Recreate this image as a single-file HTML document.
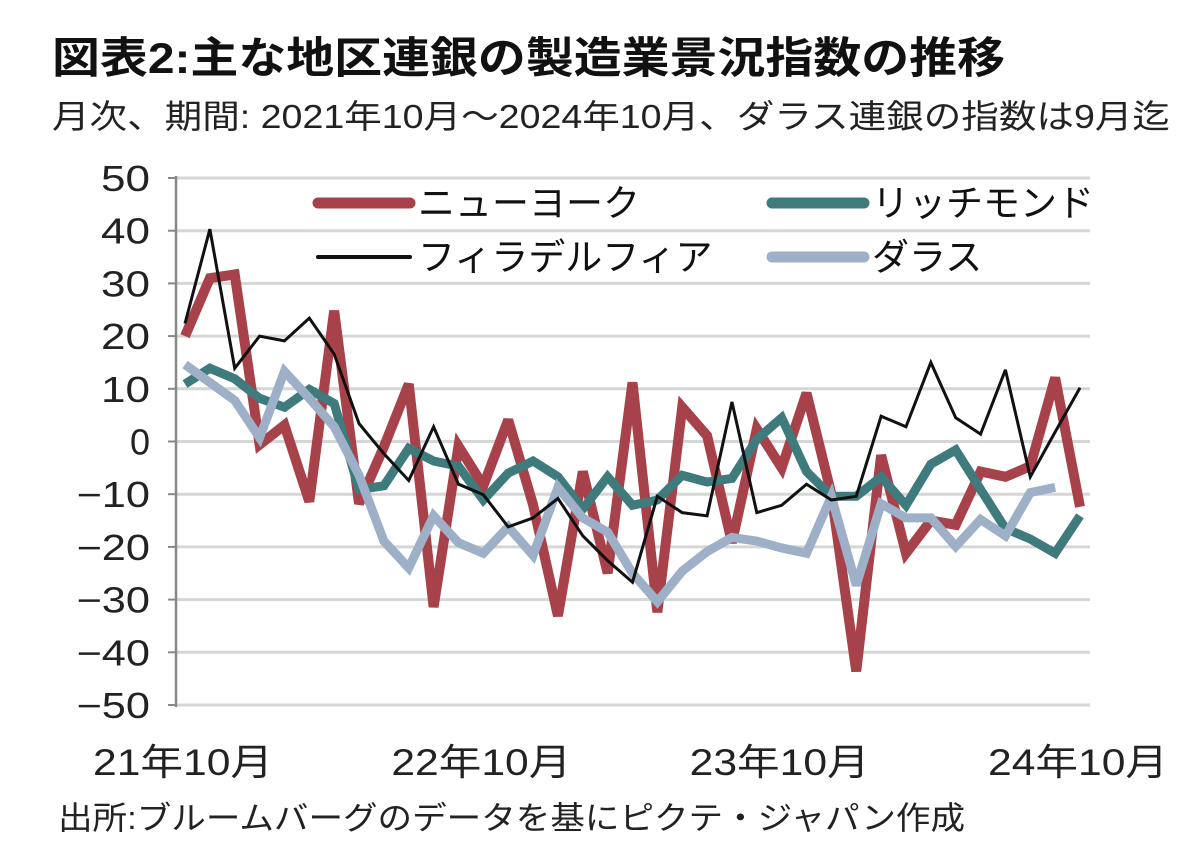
<!DOCTYPE html>
<html><head><meta charset="utf-8">
<style>
body{margin:0;background:#fff;width:1200px;height:860px;overflow:hidden;font-family:"Liberation Sans","Noto Sans CJK JP",sans-serif;}
.fit{position:absolute;white-space:nowrap;transform-origin:0 0;}
#title{left:52px;top:24px;font-size:43px;font-weight:bold;color:#111;}
#subtitle{left:52px;top:90px;font-size:33px;color:#222;}
#source{left:58px;top:793px;font-size:32px;color:#222;}
svg{position:absolute;left:0;top:0;}
</style></head>
<body>
<div id="title" class="fit" data-w="953">図表2:主な地区連銀の製造業景況指数の推移</div>
<div id="subtitle" class="fit" data-w="1118">月次、期間: 2021年10月～2024年10月、ダラス連銀の指数は9月迄</div>
<div id="source" class="fit" data-w="907">出所:ブルームバーグのデータを基にピクテ・ジャパン作成</div>
<svg id="chart" width="1200" height="860"></svg>
<script>
const yTicks=[50,40,30,20,10,0,-10,-20,-30,-40,-50];
const yTickLabels=["50","40","30","20","10","0","−10","−20","−30","−40","−50"];
const xLabelIdx=[0,12,24,36];
const xLabels=["21年10月","22年10月","23年10月","24年10月"];
const newYork=[20,31,31.7,-0.6,3.1,-11.4,24.8,-11.8,-1,10.9,-31.4,-0.9,-8.4,4.1,-12,-33.1,-5.7,-25,11.2,-32.4,6.5,1.1,-19.2,2.4,-5,9.2,-10,-43.6,-2.6,-21.2,-15,-15.8,-5.7,-6.7,-4.7,12.1,-12.4];
const richmond=[10.9,13.9,11.9,8.2,6.5,9.9,7.2,-9.1,-8.4,-1.3,-3.7,-4.7,-11.1,-6,-3.7,-6.7,-12.8,-6.7,-12.1,-11.1,-6.4,-7.7,-7,0.4,4.5,-5.7,-10.4,-10.4,-6.7,-12.1,-4.3,-1.6,-9.1,-16.5,-18.5,-21.2,-14.1];
const philly=[22.4,40.3,13.9,20,19.1,23.4,16.6,3.4,-2.3,-7.4,2.8,-8.1,-10.1,-16.2,-14.5,-10.8,-17.9,-22.6,-26.7,-10.4,-13.5,-14.1,7.5,-13.5,-12.1,-8.1,-11.1,-10.4,4.8,2.8,15,4.5,1.4,13.6,-6.7,1.8,10.2];
const dallas=[14.6,11.2,7.8,0.7,13.3,8.2,2.8,-6.4,-18.9,-24,-14.1,-19.2,-21.2,-16.2,-21.6,-8.7,-14.5,-17.2,-25,-30.4,-24.6,-20.9,-18.2,-18.9,-20.2,-21.2,-10.4,-27.3,-11.8,-14.5,-14.5,-19.9,-14.8,-17.9,-9.7,-8.7];

document.querySelectorAll('.fit').forEach(d=>{
  const w=d.getBoundingClientRect().width;
  d.style.transform='scaleX('+(parseFloat(d.dataset.w)/w)+')';
});
const NS="http://www.w3.org/2000/svg";
const svg=document.getElementById('chart');
const X0=185,X1=1080,Y50=178,Ym50=705;
const xs=i=>X0+(X1-X0)*i/36;
const ys=v=>Y50+(50-v)*(Ym50-Y50)/100;
function mk(tag,attrs){const e=document.createElementNS(NS,tag);for(const k in attrs)e.setAttribute(k,attrs[k]);svg.appendChild(e);return e;}
yTicks.forEach((t,i)=>{
  const g=mk('line',{x1:175,x2:1090,y1:ys(t),y2:ys(t),stroke:'#d6d6d6','stroke-width':3});
  
  
  const tk=mk('line',{x1:168,x2:176,y1:ys(t),y2:ys(t),stroke:'#888','stroke-width':2});
  
  
  const lbl=yTickLabels[i];
  const attrs={x:150,y:ys(t)+13,'text-anchor':'end','font-size':36,fill:'#222','font-family':'Liberation Sans, sans-serif'};
  if(lbl.length>=2){attrs.textLength=lbl.length*24.5;attrs.lengthAdjust='spacingAndGlyphs';}
  const tx=mk('text',attrs);
  tx.textContent=lbl;
  
  
});
const ax=mk('line',{x1:176,x2:176,y1:Y50-2,y2:Ym50+2,stroke:'#888','stroke-width':2.5});


xLabelIdx.forEach((idx,i)=>{
  const tx=mk('text',{x:xs(idx)-2,y:775,'text-anchor':'middle','font-size':37,fill:'#222','font-family':'Liberation Sans, Noto Sans CJK JP, sans-serif',textLength:180,lengthAdjust:'spacingAndGlyphs'});
  tx.textContent=xLabels[i];
  
  
});
function series(data,color,w,name){
  const p=mk('polyline',{points:data.map((v,i)=>xs(i)+','+ys(v)).join(' '),fill:'none',stroke:color,'stroke-width':w,'stroke-linejoin':'miter','stroke-miterlimit':3});
  
  
}
series(newYork,'#A8424A',10,'new-york-line');
series(richmond,'#3F7A7C',9,'richmond-line');
series(dallas,'#9DB0C7',9,'dallas-line');
series(philly,'#111',3,'philadelphia-line');
const leg=[["ニューヨーク",'#A8424A',11,318,203],["リッチモンド",'#3F7A7C',11,772,203],["フィラデルフィア",'#111',4,318,257],["ダラス",'#9DB0C7',11,772,257]];
leg.forEach(l=>{
  const ln=mk('line',{x1:l[3],x2:l[3]+92,y1:l[4],y2:l[4],stroke:l[1],'stroke-width':l[2],'stroke-linecap':'round'});
  
  
  const t=mk('text',{x:l[3]+100,y:l[4]+13,'font-size':37,fill:'#111','font-family':'Liberation Sans, Noto Sans CJK JP, sans-serif'});
  t.textContent=l[0];
  
  
});
</script>
</body></html>
